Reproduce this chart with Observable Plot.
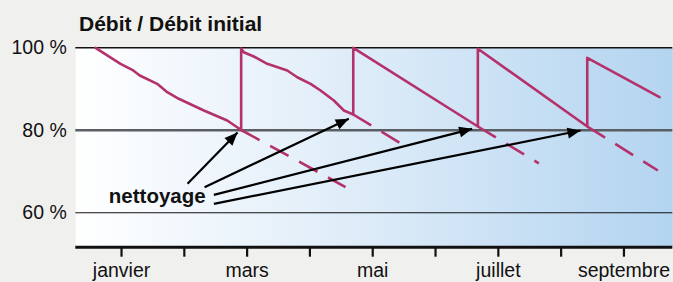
<!DOCTYPE html>
<html><head><meta charset="utf-8">
<script src="https://cdn.jsdelivr.net/npm/d3@7"></script>
<script src="https://cdn.jsdelivr.net/npm/@observablehq/plot@0.6"></script>
<style>
html,body{margin:0;padding:0;background:#f0f0ef;}
#wrap{position:relative;width:673px;height:282px;overflow:hidden;font-family:"Liberation Sans",Arial,Helvetica,sans-serif;}
#title{position:absolute;left:79px;top:12.7px;font-size:21px;line-height:21px;font-weight:bold;color:#111;white-space:nowrap;}
#chart{position:absolute;left:0;top:0;}
</style></head>
<body><div id="wrap"><div id="chart"></div><div id="title">Débit / Débit initial</div></div>
<script>
// Tick labels
const monthNames = ["janvier","février","mars","avril","mai","juin","juillet","août","septembre"];
const labeledMonths = [0, 2, 4, 6, 8];
const yTicks = [60, 80, 100];

// Measured flow (month index, % of initial flow), with cleanings as vertical jumps
const solidMonth = [-0.414, -0.016, 0.170, 0.291, 0.568, 0.728, 0.912, 1.311, 1.683, 1.905,
                    1.905, 1.946, 2.106, 2.320, 2.639, 2.798, 3.010, 3.169, 3.381, 3.540, 3.690,
                    3.690, 5.674,
                    5.674, 7.416,
                    7.416, 8.567];
const solidValue = [100, 96.12, 94.67, 93.28, 91.27, 89.24, 87.64, 84.80, 82.38, 80.07,
                    99.8, 98.93, 97.89, 96.12, 94.50, 92.87, 91.27, 89.65, 87.22, 84.80, 83.83,
                    100, 80.92,
                    99.76, 80.92,
                    97.58, 88.02];

// Projected decline without cleaning (dashed)
const projMonthStart = [1.905, 3.690, 5.674, 7.416];
const projValueStart = [80.07, 83.83, 80.92, 80.92];
const projMonthEnd   = [3.567, 4.454, 6.645, 8.540];
const projValueEnd   = [66.24, 76.73, 72.00, 70.25];

// Annotation arrows "nettoyage"
const arrowFromMonth = [1.051, 1.322, 1.470, 1.470];
const arrowFromValue = [67.03, 66.21, 64.36, 62.18];
const arrowToMonth   = [1.847, 3.619, 5.584, 7.309];
const arrowToValue   = [79.47, 82.79, 80.36, 79.95];
const annotationText = ["nettoyage"];
const annotationMonth = [-0.202];
const annotationValue = [63.95];

const xDomain = [-0.728, 8.778];
const yDomain = [51.66, 100];

const solid = solidMonth.map((m, i) => ({m, v: solidValue[i]}));
const proj = projMonthStart.map((m, i) => ({m0: m, v0: projValueStart[i], m1: projMonthEnd[i], v1: projValueEnd[i]}));
const arrows = arrowFromMonth.map((m, i) => ({m0: m, v0: arrowFromValue[i], m1: arrowToMonth[i], v1: arrowToValue[i]}));
const notes = annotationText.map((t, i) => ({t, m: annotationMonth[i], v: annotationValue[i]}));

const magenta = "#b5316c";
const font = '"Liberation Sans", Arial, Helvetica, sans-serif';

const plot = Plot.plot({
  width: 673, height: 282,
  marginLeft: 75.3, marginRight: 0.7, marginTop: 47.3, marginBottom: 35.3,
  style: {fontFamily: font, fontSize: "19.5px", color: "#111", background: "transparent", overflow: "visible"},
  x: {domain: xDomain, label: null},
  y: {domain: yDomain, label: null},
  marks: [
    Plot.frame({fill: "url(#bgGrad)"}),
    Plot.ruleY([60], {stroke: "#111", strokeWidth: 1.1}),
    Plot.ruleY([80], {stroke: "#5b5f64", strokeWidth: 2.6}),
    Plot.ruleY([100], {stroke: "#111", strokeWidth: 1.4}),
    Plot.link(proj, {x1: "m0", y1: "v0", x2: "m1", y2: "v1", stroke: magenta, strokeWidth: 2.6, strokeDasharray: "21,12"}),
    Plot.line(solid, {x: "m", y: "v", stroke: magenta, strokeWidth: 2.6}),
    Plot.link(arrows, {x1: "m0", y1: "v0", x2: "m1", y2: "v1", stroke: "#000", strokeWidth: 2.2, markerEnd: "arrow"}),
    Plot.text(notes, {x: "m", y: "v", text: "t", textAnchor: "start", fontWeight: "bold", fontSize: 20.5, fill: "#111"}),
    Plot.ruleY([yDomain[0]], {stroke: "#111", strokeWidth: 3}),
    Plot.axisY(yTicks, {tickSize: 0, tickPadding: 9, tickFormat: d => `${d} %`, fontSize: 19.5, label: null}),
    Plot.axisX(d3.range(monthNames.length), {tickSize: 10, strokeWidth: 2.2, stroke: "#111", tickFormat: () => "", label: null}),
    Plot.axisX(labeledMonths, {tickSize: 0, tickPadding: 16, tickFormat: i => monthNames[i], fontSize: 19.5, label: null})
  ]
});

const sel = d3.select(plot);
const defs = sel.insert("defs", ":first-child");
const grad = defs.append("linearGradient").attr("id", "bgGrad").attr("x1", 0).attr("x2", 1).attr("y1", 0).attr("y2", 0);
grad.append("stop").attr("offset", 0).attr("stop-color", "#ffffff");
grad.append("stop").attr("offset", 0.5).attr("stop-color", "#dcebf8");
grad.append("stop").attr("offset", 1).attr("stop-color", "#b3d4f0");

sel.selectAll("marker").each(function () {
  const mk = d3.select(this);
  mk.attr("viewBox", "-14 -7 16 14").attr("markerWidth", 16).attr("markerHeight", 14)
    .attr("markerUnits", "userSpaceOnUse").attr("fill", "#000").attr("stroke", "none");
  mk.selectAll("*").remove();
  mk.append("path").attr("d", "M-13,-5.5L0,0L-13,5.5Z");
});

document.getElementById("chart").appendChild(plot);
</script></body></html>
